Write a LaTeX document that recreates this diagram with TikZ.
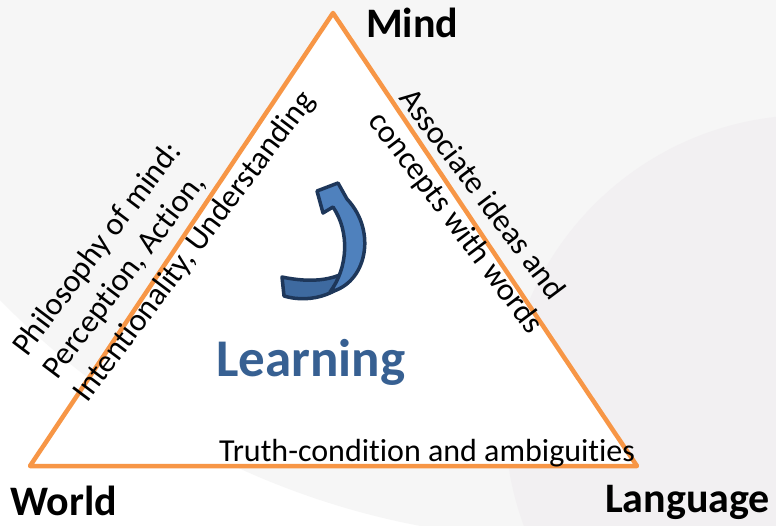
\documentclass[tikz,border=0pt]{standalone}
\usepackage{fontspec}
\setmainfont{Carlito}[Ligatures=NoCommon]
\usepackage{xcolor}
\usetikzlibrary{positioning,calc}

\definecolor{triorange}{RGB}{247,150,70}
\definecolor{learnblue}{RGB}{55,96,146}
\definecolor{arrowfill}{RGB}{79,129,189}
\definecolor{arrowdark}{RGB}{62,106,160}
\definecolor{arrowline}{RGB}{30,55,90}
\definecolor{bggray}{RGB}{246,246,246}
\definecolor{bgright}{RGB}{242,240,242}

\tikzstyle{corner} = [font=\fontsize{42}{50}\selectfont\bfseries, inner sep=0pt, anchor=base west]
\tikzstyle{edgetext} = [font=\fontsize{32}{38}\selectfont, inner sep=0pt, align=left]
\tikzstyle{curvedarrow} = [draw=arrowline, line width=3.5pt, line join=round]

\begin{document}
\begin{tikzpicture}[x=1pt, y=-1pt]
	\useasboundingbox (0,0) rectangle (776,526);
	
	% ====== Fond ======
	\begin{scope}
		\clip (0,0) rectangle (776,526);
		\fill[white] (0,0) rectangle (776,526);
		\fill[bggray] (570,-257) circle (797);
		\fill[bgright] (810,420) circle (305);
	\end{scope}
	
	% ====== Triangle ======
	\coordinate (top) at (333,13);
	\coordinate (bl) at (30,466);
	\coordinate (br) at (637,466);
	\draw[triorange, line width=4.5pt, line join=round, fill=white] (top) -- (bl) -- (br) -- cycle;
	
	% ====== Sommets ======
	\node[corner] (mind) at (366,38) {Mind};
	\node[corner] (world) at (10,515) {World};
	\node[corner] (language) at (605,512) {Language};
	
	% ====== Textes des cotes ======
	\node[edgetext, rotate=53, anchor=north west] (mindworld) at (9,344)
	{Philosophy of mind:\\Perception, Action,\\Intentionality, Understanding};
	\node[edgetext, rotate=-53, anchor=north west] (mindlang) at (416,85)
	{Associate ideas and\\concepts with words};
	\node[edgetext, anchor=base west] (worldlang) at (219,461) {Truth-condition and ambiguities};
	
	% ====== Learning ======
	\node[font=\fontsize{53}{62}\selectfont\bfseries, text=learnblue, inner sep=0pt, anchor=base west]
	(learning) at (216,377) {Learning};
	
	% ====== Fleche courbe ======
	\coordinate (tailtop) at (282,277);
	\coordinate (tailbot) at (284,296);
	\coordinate (twist) at (359,262);
	\coordinate (root) at (330,292);
	\coordinate (wingout) at (338,183);
	\coordinate (tip) at (317,191);
	\coordinate (wingin) at (323,213);
	\draw[curvedarrow, fill=arrowdark] (tailbot) .. controls (310,304) and (347,295) .. (twist)
	.. controls (340,282) and (310,283) .. (tailtop) -- cycle;
	\draw[curvedarrow, fill=arrowfill] (root) .. controls (366,284) and (378,232) .. (347,199)
	-- (wingout) -- (tip) -- (wingin) -- (333,207) .. controls (350,232) and (348,268) .. (root) -- cycle;
	
\end{tikzpicture}
\end{document}
